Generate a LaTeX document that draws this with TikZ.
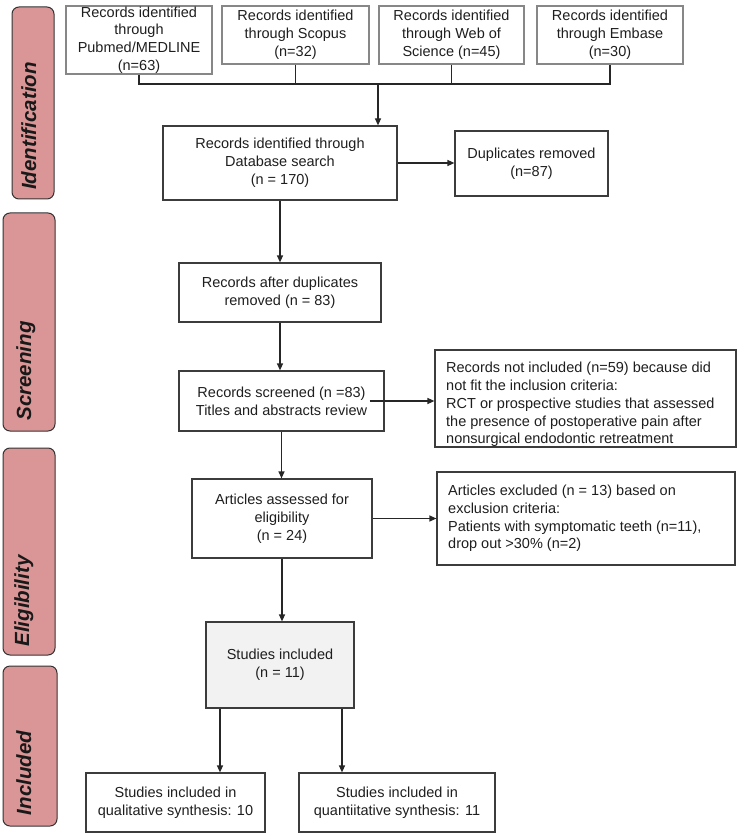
\documentclass[tikz,border=0pt]{standalone}
\usepackage{fontspec}
\setmainfont{Liberation Sans}
\usetikzlibrary{arrows.meta,calc}
\definecolor{labfill}{RGB}{218,150,150}
\definecolor{boxline}{RGB}{60,60,60}
\definecolor{topline}{RGB}{135,135,135}
\definecolor{incfill}{RGB}{242,242,242}
\definecolor{txt}{RGB}{30,30,30}
\begin{document}
\begin{tikzpicture}[x=1pt,y=-1pt,
  every node/.style={font=\fontsize{14.5}{17.8}\selectfont, text=txt},
  box/.style={draw=boxline, line width=1.2pt, inner sep=0pt, align=center},
  topbox/.style={draw=topline, line width=1.1pt, inner sep=0pt, align=center},
  sidebar/.style={draw=black!80, fill=labfill, line width=1pt, rounded corners=7pt, inner sep=0pt},
  sidetext/.style={rotate=90, anchor=base, inner sep=0pt, font=\fontsize{20.5}{24}\selectfont\bfseries\itshape, text=black!90},
  link/.style={draw=black!85, line width=1.2pt},
  arrow/.style={link, -{Triangle[length=7pt,width=6pt]}},
  freetext/.style={anchor=west, align=left, inner sep=0pt}
]
\useasboundingbox (0,0) rectangle (737,834);

% side bars
\node[sidebar, minimum width=42pt, minimum height=192pt] (sb1) at (33,103) {};
\node[sidebar, minimum width=52pt, minimum height=218pt] (sb2) at (29,322) {};
\node[sidebar, minimum width=52pt, minimum height=207pt] (sb3) at (29,551.5) {};
\node[sidebar, minimum width=54pt, minimum height=160pt] (sb4) at (30,746) {};
\node[sidetext] (st1) at (36,126) {Identification};
\node[sidetext] (st2) at (31,371) {Screening};
\node[sidetext] (st3) at (29,601) {Eligibility};
\node[sidetext] (st4) at (31,773) {Included};

% top boxes
\node[topbox, minimum width=146pt, minimum height=68pt] (pub) at (139,40) {Records identified\\through\\Pubmed/MEDLINE\\(n=63)};
\node[topbox, minimum width=147pt, minimum height=58pt] (sco) at (295.5,35) {Records identified\\through Scopus\\(n=32)};
\node[topbox, minimum width=145pt, minimum height=58pt] (wos) at (451.5,35) {Records identified\\through Web of\\Science (n=45)};
\node[topbox, minimum width=146pt, minimum height=58pt] (emb) at (610,35) {Records identified\\through Embase\\(n=30)};

% main boxes
\node[box, minimum width=234pt, minimum height=74pt] (db) at (280,163) {Records identified through\\Database search\\(n = 170)};
\node[box, minimum width=153pt, minimum height=65pt] (dup) at (531.5,163.5) {Duplicates removed\\(n=87)};
\node[box, minimum width=202pt, minimum height=59pt] (aft) at (280,292.5) {Records after duplicates\\removed (n = 83)};
\node[box, minimum width=205pt, minimum height=60pt] (scr) at (281.5,401) {Records screened (n =83)\\Titles and abstracts review};
\node[box, minimum width=301pt, minimum height=97pt] (nib) at (585.5,398.5) {};
\node[freetext] (nibt) at (446,404.5) {Records not included (n=59) because did\\not fit the inclusion criteria:\\RCT or prospective studies that assessed\\the presence of postoperative pain after\\nonsurgical endodontic retreatment};
\node[box, minimum width=180pt, minimum height=79pt] (ass) at (282,518.5) {Articles assessed for\\eligibility\\(n = 24)};
\node[box, minimum width=298pt, minimum height=93pt] (exc) at (586,518.5) {};
\node[freetext] (exct) at (448,518.5) {Articles excluded (n = 13) based on\\exclusion criteria:\\Patients with symptomatic teeth (n=11),\\drop out >30\% (n=2)};
\node[box, fill=incfill, minimum width=148pt, minimum height=86pt] (stu) at (280,665) {Studies included\\(n = 11)};
\node[box, minimum width=179pt, minimum height=59pt] (qua) at (175.5,802.5) {Studies included in\\qualitative synthesis: 10};
\node[box, minimum width=196pt, minimum height=59pt] (qnt) at (397,802.5) {Studies included in\\quantiitative synthesis: 11};

% connectors
\coordinate (bus) at (378,84);
\draw[link] (pub.south) |- (bus -| emb.south) -- (emb.south);
\draw[link] (sco.south) -- (sco.south |- bus);
\draw[link] (wos.south) -- (wos.south |- bus);
\draw[arrow] (bus) -- (bus |- db.north);
\draw[arrow] (db.east) -- (db.east -| dup.west);
\draw[arrow] (db.south) -- (db.south |- aft.north);
\draw[arrow] (aft.south) -- (aft.south |- scr.north);
\draw[arrow] ([xshift=-15pt]scr.east) -- (scr.east -| nib.west);
\draw[arrow] (scr.south) -- (scr.south |- ass.north);
\draw[arrow] (ass.east) -- (ass.east -| exc.west);
\draw[arrow] (ass.south) -- (ass.south |- stu.north);
\draw[arrow] ([xshift=-60pt]stu.south) -- ([xshift=-60pt]stu.south |- qua.north);
\draw[arrow] ([xshift=62pt]stu.south) -- ([xshift=62pt]stu.south |- qnt.north);
\end{tikzpicture}
\end{document}
